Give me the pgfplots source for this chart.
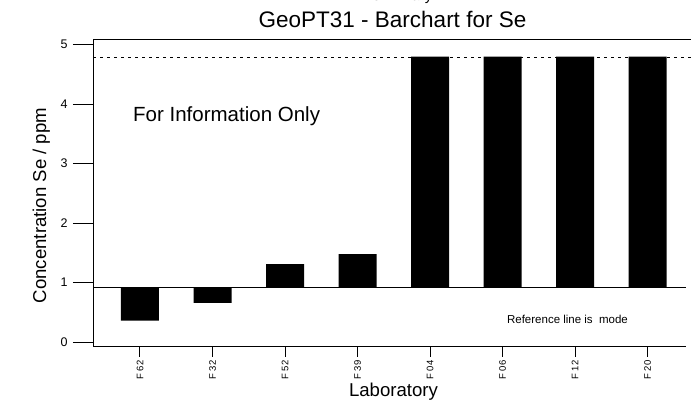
\documentclass[border=0pt]{standalone}
\usepackage{fontspec}
\setmainfont{Liberation Sans}
\usepackage{pgfplots}
\usepackage{pgfplotstable}
\pgfplotsset{compat=1.18}

% lo/hi = ends of each floating bar (reference line = 0.91)
\pgfplotstableread{
x lo hi
0 0.36 0.91
1 0.66 0.91
2 0.91 1.31
3 0.91 1.48
4 0.91 4.80
5 0.91 4.80
6 0.91 4.80
7 0.91 4.80
}\sedata

\begin{document}
\begin{tikzpicture}[x=1pt,y=1pt]
\useasboundingbox (0,0) rectangle (691,401);
\begin{axis}[
	at={(93pt,54pt)}, anchor=south west,
	scale only axis, width=593pt, height=307pt,
	xmin=-0.648, xmax=7.53,
	ymin=-0.084, ymax=5.08,
	axis x line*=bottom, axis y line*=left,
	axis line style={line width=1pt, black},
	ybar stacked, bar width=38pt,
	xtick={0,...,7},
	xticklabels={F 62,F 32,F 52,F 39,F 04,F 06,F 12,F 20},
	ytick={0,...,5},
	tick align=outside, major tick length=10pt,
	tick style={line width=1pt, black},
	ytick style={/pgfplots/major tick length=20pt},
	x tick label style={rotate=90, anchor=east, font=\fontsize{9.5}{10}\selectfont},
	y tick label style={xshift=-12pt, font=\fontsize{12.5}{13}\selectfont},
	/pgf/number format/assume math mode=true,
	clip=false,
	]
	\addplot[draw=none, fill=none] table[x=x, y=lo] {\sedata};
	\addplot[draw=none, fill=black] table[x=x, y expr=\thisrow{hi}-\thisrow{lo}] {\sedata};
	% reference line (mode) and cut-off line
	\draw[line width=1pt] (axis cs:-0.648,0.91) -- (axis cs:7.53,0.91);
	\draw[line width=0.8pt, dash pattern=on 3pt off 4pt] (axis cs:-0.648,4.78) -- (axis cs:7.65,4.78);
\end{axis}
\draw[line width=1pt] (93,361) -- (691,361);
\node[anchor=base, font=\fontsize{15}{16}\selectfont] at (395,400) {Preliminary};
\node[anchor=base, font=\fontsize{22.5}{24}\selectfont] at (392.5,373.7) {GeoPT31 - Barchart for Se};
\node[anchor=base west, inner sep=0pt, font=\fontsize{20.5}{22}\selectfont] at (133,279.3) {For Information Only};
\node[anchor=base, inner sep=0pt, font=\fontsize{11.5}{12}\selectfont] at (567.5,77) {Reference line is \ mode};
\node[anchor=base, inner sep=0pt, font=\fontsize{18.6}{20}\selectfont] at (393.5,4.3) {Laboratory};
\node[anchor=base, inner sep=0pt, rotate=90, font=\fontsize{18.6}{20}\selectfont] at (46,195.5) {Concentration Se / ppm};
\end{tikzpicture}
\end{document}
